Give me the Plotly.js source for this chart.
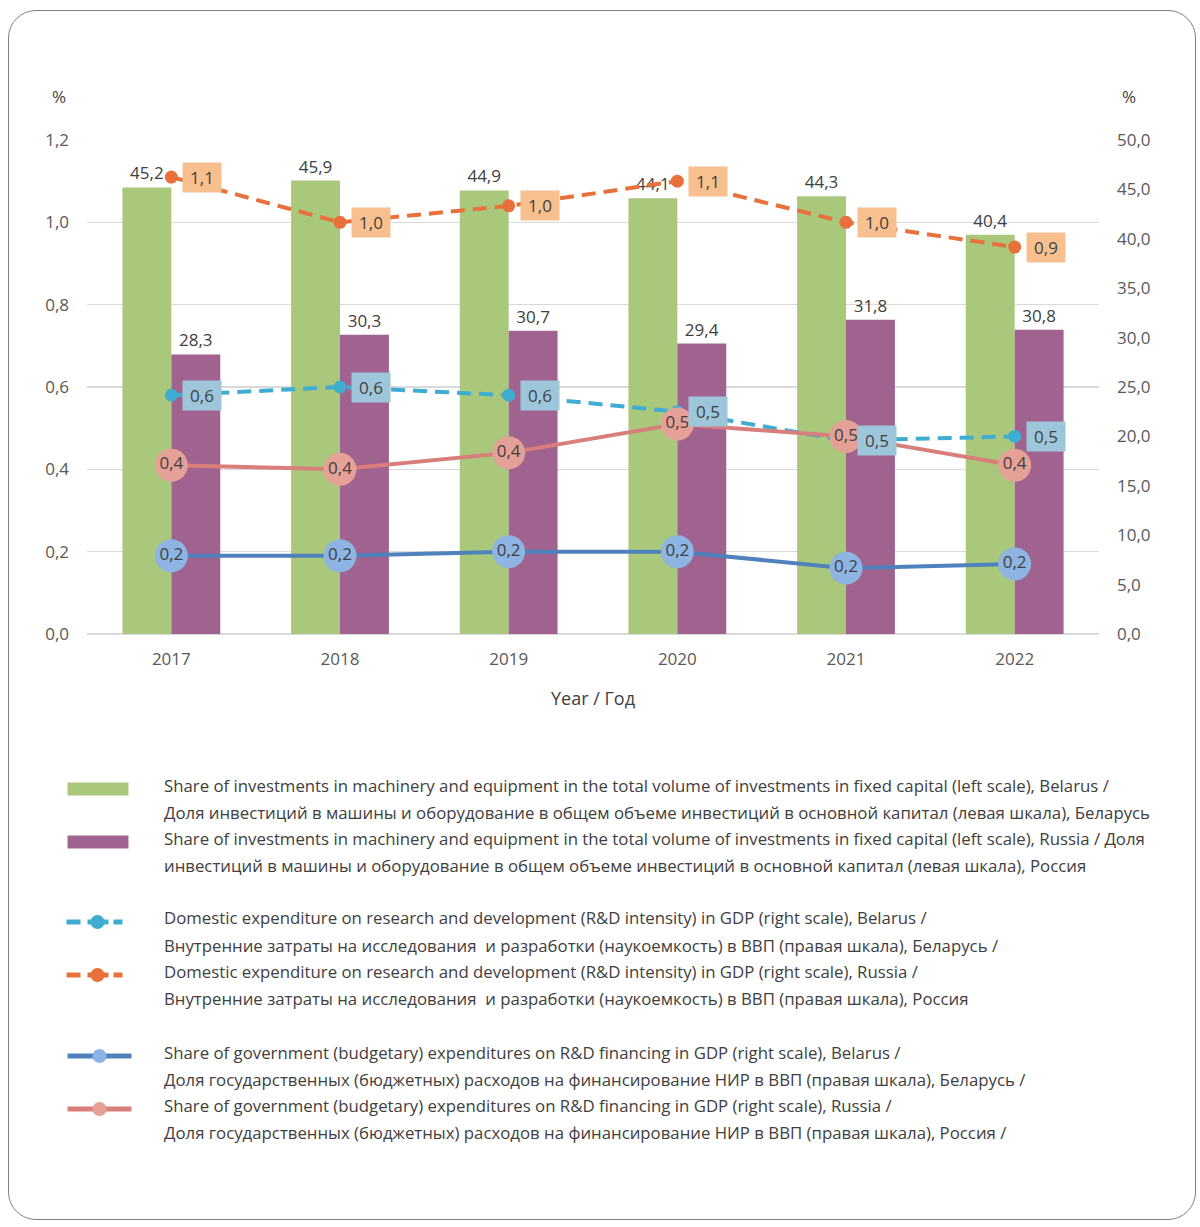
<!DOCTYPE html>
<html>
<head>
<meta charset="utf-8">
<script src="https://cdn.plot.ly/plotly-3.0.1.min.js"></script>
<style>
  html, body { margin: 0; padding: 0; background: #ffffff; }
  #wrap { position: relative; width: 1200px; height: 1227px; }
  #chart { position: absolute; left: 0; top: 0; width: 1200px; height: 1227px; }
  #frame { position: absolute; left: 8px; top: 10px; width: 1186px; height: 1208px;
           border: 1.5px solid #7f7f7f; border-radius: 28px; pointer-events: none; }
</style>
</head>
<body>
<div id="wrap"><div id="chart"></div><div id="frame"></div></div>
<script>
// ---- data ----
const years = ['2017', '2018', '2019', '2020', '2021', '2022'];
const invBelarus = [45.2, 45.9, 44.9, 44.1, 44.3, 40.4];
const invRussia  = [28.3, 30.3, 30.7, 29.4, 31.8, 30.8];
const rdBelarus  = [0.58, 0.60, 0.58, 0.54, 0.47, 0.48];
const rdRussia   = [1.11, 1.00, 1.04, 1.10, 1.00, 0.94];
const govBelarus = [0.19, 0.19, 0.20, 0.20, 0.16, 0.17];
const govRussia  = [0.41, 0.40, 0.44, 0.51, 0.48, 0.41];

const axisUnitLeft = '%';
const axisUnitRight = '%';
const xTitle = 'Year / Год';

const legendLines = [
  ['Share of investments in machinery and equipment in the total volume of investments in fixed capital (left scale), Belarus /',
   'Доля инвестиций в машины и оборудование в общем объеме инвестиций в основной капитал (левая шкала), Беларусь'],
  ['Share of investments in machinery and equipment in the total volume of investments in fixed capital (left scale), Russia / Доля',
   'инвестиций в машины и оборудование в общем объеме инвестиций в основной капитал (левая шкала), Россия'],
  ['Domestic expenditure on research and development (R&amp;D intensity) in GDP (right scale), Belarus /',
   'Внутренние затраты на исследования &nbsp;и разработки (наукоемкость) в ВВП (правая шкала), Беларусь /'],
  ['Domestic expenditure on research and development (R&amp;D intensity) in GDP (right scale), Russia /',
   'Внутренние затраты на исследования &nbsp;и разработки (наукоемкость) в ВВП (правая шкала), Россия'],
  ['Share of government (budgetary) expenditures on R&amp;D financing in GDP (right scale), Belarus /',
   'Доля государственных (бюджетных) расходов на финансирование НИР в ВВП (правая шкала), Беларусь /'],
  ['Share of government (budgetary) expenditures on R&amp;D financing in GDP (right scale), Russia /',
   'Доля государственных (бюджетных) расходов на финансирование НИР в ВВП (правая шкала), Россия /']
];

// ---- styling ----
const FONT = 'Open Sans, Noto Sans, sans-serif';
const TXT = '#404040';
const TICK = '#595959';
const C = {
  green: '#a9c87c', purple: '#a0628f',
  orange: '#e8703a', orangeBox: '#f9c08f',
  aqua: '#3fadd2', aquaBox: '#9ec6da',
  blue: '#4f81bd', blueDot: '#8db4e2',
  pink: '#d97f7b', pinkDot: '#e5a098'
};

// plot-area pixel geometry (for paper-coordinate placement of the legend)
const PL = 86.5, PR = 1099.5, PT = 140, PB = 634;
const px = x => (x - PL) / (PR - PL);
const py = y => (PB - y) / (PB - PT);
const fmt = v => v.toFixed(1).replace('.', ',');

const traces = [
  { type: 'bar', x: years, y: invBelarus, yaxis: 'y', marker: { color: C.green },
    texttemplate: '%{y:.1f}', textposition: 'outside', textfont: { size: 17, color: TXT, family: FONT },
    cliponaxis: false, constraintext: 'none', hoverinfo: 'x+y' },
  { type: 'bar', x: years, y: invRussia, yaxis: 'y', marker: { color: C.purple },
    texttemplate: '%{y:.1f}', textposition: 'outside', textfont: { size: 17, color: TXT, family: FONT },
    cliponaxis: false, constraintext: 'none', hoverinfo: 'x+y' },
  { type: 'scatter', mode: 'lines+markers', x: years, y: rdBelarus, yaxis: 'y2',
    line: { color: C.aqua, width: 4, dash: '14px,8px' }, marker: { color: C.aqua, size: 13 }, cliponaxis: false },
  { type: 'scatter', mode: 'lines+markers', x: years, y: rdRussia, yaxis: 'y2',
    line: { color: C.orange, width: 4, dash: '14px,8px' }, marker: { color: C.orange, size: 13 }, cliponaxis: false },
  { type: 'scatter', mode: 'lines+markers+text', x: years, y: govRussia, yaxis: 'y2',
    line: { color: C.pink, width: 4 }, marker: { color: C.pinkDot, size: 33 },
    texttemplate: '%{y:.1f}', textposition: 'middle center', textfont: { size: 17, color: TXT, family: FONT }, cliponaxis: false },
  { type: 'scatter', mode: 'lines+markers+text', x: years, y: govBelarus, yaxis: 'y2',
    line: { color: C.blue, width: 4 }, marker: { color: C.blueDot, size: 33 },
    texttemplate: '%{y:.1f}', textposition: 'middle center', textfont: { size: 17, color: TXT, family: FONT }, cliponaxis: false }
];

const annotations = [];
// boxed labels for R&D intensity lines (x given as category index)
years.forEach((yr, i) => {
  annotations.push({ x: i, y: rdRussia[i], xref: 'x', yref: 'y2', text: fmt(rdRussia[i]), showarrow: false,
    xshift: 31, bgcolor: C.orangeBox, width: 36, height: 27, borderpad: 1,
    font: { size: 17, color: TXT, family: FONT } });
  annotations.push({ x: i, y: rdBelarus[i], xref: 'x', yref: 'y2', text: fmt(rdBelarus[i]), showarrow: false,
    xshift: 31, bgcolor: C.aquaBox, width: 36, height: 27, borderpad: 1,
    font: { size: 17, color: TXT, family: FONT } });
});
// axis unit labels
annotations.push({ xref: 'paper', yref: 'paper', x: px(58), y: py(97), xanchor: 'center', yanchor: 'middle',
  text: axisUnitLeft, showarrow: false, font: { size: 17, color: TXT, family: FONT } });
annotations.push({ xref: 'paper', yref: 'paper', x: px(1130), y: py(97), xanchor: 'center', yanchor: 'middle',
  text: axisUnitRight, showarrow: false, font: { size: 17, color: TXT, family: FONT } });

// legend (manual)
const legendRowY = [785, 838, 918, 971, 1052, 1105];
const shapes = [];
legendLines.forEach((lines, k) => {
  lines.forEach((t, j) => {
    annotations.push({ xref: 'paper', yref: 'paper', x: px(162), y: py(legendRowY[k] + 27 * j),
      xanchor: 'left', yanchor: 'middle', text: t, showarrow: false, align: 'left',
      font: { size: 16.8, color: TXT, family: FONT } });
  });
});
const iconY = legendRowY.map(v => v + 4);
function rect(x0, x1, yc, h, col) {
  shapes.push({ type: 'rect', xref: 'paper', yref: 'paper', x0: px(x0), x1: px(x1), y0: py(yc - h / 2), y1: py(yc + h / 2),
    fillcolor: col, line: { width: 0 } });
}
function seg(x0, x1, yc, col, w) {
  shapes.push({ type: 'line', xref: 'paper', yref: 'paper', x0: px(x0), x1: px(x1), y0: py(yc), y1: py(yc),
    line: { color: col, width: w } });
}
function dot(xc, yc, r, col) {
  shapes.push({ type: 'circle', xref: 'paper', yref: 'paper', x0: px(xc - r), x1: px(xc + r), y0: py(yc + r), y1: py(yc - r),
    fillcolor: col, line: { width: 0 } });
}
rect(67, 128, iconY[0], 13, C.green);
rect(67, 128, iconY[1], 13, C.purple);
[[2, C.aqua], [3, C.orange]].forEach(([k, col]) => {
  seg(66, 80, iconY[k], col, 5); seg(87, 108, iconY[k], col, 5); seg(113, 122, iconY[k], col, 5);
  dot(97, iconY[k], 7, col);
});
seg(67, 131, iconY[4], C.blue, 5); dot(99, iconY[4], 7, C.blueDot);
seg(67, 131, iconY[5], C.pink, 5); dot(99, iconY[5], 7, C.pinkDot);

const layout = {
  width: 1200, height: 1227,
  margin: { l: PL, r: 1200 - PR, t: PT, b: 1227 - PB },
  paper_bgcolor: '#ffffff', plot_bgcolor: '#ffffff',
  separators: ', ',
  showlegend: false,
  barmode: 'group', bargap: 0.42, bargroupgap: 0,
  font: { family: FONT, color: TICK, size: 17 },
  xaxis: { type: 'category', range: [-0.5, years.length - 0.5], autorange: false,
    showgrid: false, zeroline: false, showline: false, ticks: '', ticklabelstandoff: 13,
    tickfont: { size: 17, color: TICK },
    title: { text: xTitle, font: { size: 18, color: TXT }, standoff: 23 } },
  yaxis: { side: 'right', range: [0, 50], autorange: false, dtick: 5, tickformat: '.1f', showgrid: false, zeroline: false,
    showline: false, ticks: '', ticklabelstandoff: 17, tickfont: { size: 17, color: TICK } },
  yaxis2: { overlaying: 'y', side: 'left', range: [0, 1.2], autorange: false, dtick: 0.2, tickformat: '.1f',
    showgrid: true, gridcolor: '#d9d9d9', gridwidth: 1.3, zeroline: true, zerolinecolor: '#d9d9d9', zerolinewidth: 1.3,
    showline: false, ticks: '', ticklabelstandoff: 17, tickfont: { size: 17, color: TICK } },
  annotations: annotations,
  shapes: shapes
};

Plotly.newPlot('chart', traces, layout, { staticPlot: true, displayModeBar: false });
</script>
</body>
</html>
